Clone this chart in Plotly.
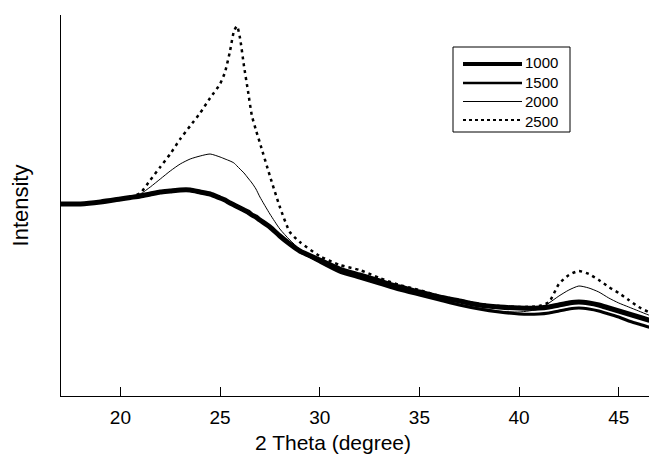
import plotly.graph_objects as go

# 2 Theta (degree)
theta = [17, 18, 19, 20, 20.5, 21, 21.5, 22, 22.5, 23, 23.5, 24, 24.5, 25, 25.25, 25.5,
         25.7, 25.85, 26, 26.2, 26.4, 26.6, 26.8, 27, 27.5, 28, 28.5, 29, 30, 31, 32, 33,
         34, 35, 36, 37, 38, 39, 40, 41, 41.5, 42, 42.5, 43, 43.5, 44, 44.5, 45, 45.5,
         46, 46.5, 47]

# Intensity (arbitrary units)
i1000 = [192, 192, 194, 197, 198.5, 200, 202, 204, 205, 206, 206, 204, 202, 198, 196, 193,
         191, 189.5, 188, 186, 184, 181, 179, 176, 169, 160, 152, 145, 136, 127, 121, 115,
         109, 104, 99, 95, 91, 89, 88, 88, 89, 91, 93, 94, 93, 91, 88, 85, 82,
         79, 76, 73]
i1500 = [192, 192, 194, 197, 198.5, 200, 202, 204, 205, 206, 206, 204, 202, 198, 196, 193,
         191, 189.5, 188, 186, 184, 181, 179, 176, 169, 160, 152, 145, 134, 124, 118, 112,
         106, 101, 96, 91, 87, 84, 82, 82, 83, 85, 87, 88, 87, 85, 82, 79, 75,
         72, 69, 67]
i2000 = [192, 192, 194, 197, 198.5, 202, 209, 217, 225, 232, 237, 240, 242, 239, 237, 235,
         233, 230, 227, 223, 218, 213, 207, 199, 182, 167, 156, 147, 136, 127, 120, 114,
         108, 102, 97, 92, 88, 85, 84, 87, 93, 100, 106, 110, 108, 104, 98, 93, 89,
         85, 81, 78]
i2500 = [192, 192, 194, 197, 199, 203, 216, 229, 242, 257, 270, 283, 298, 312, 324, 345,
         365, 370, 358, 330, 305, 280, 266, 253, 220, 189, 164, 154, 140, 131, 126, 118,
         111, 106, 100, 96, 92, 90, 89, 90, 94, 112, 121, 125, 122, 116, 109, 103, 96,
         89, 84, 80]

series_names = ["1000", "1500", "2000", "2500"]
tick_values = [20, 25, 30, 35, 40, 45]

fig = go.Figure()
styles = [
    dict(color="black", width=5),
    dict(color="black", width=3),
    dict(color="black", width=1),
    dict(color="black", width=2.5, dash="3px,4px"),
]
legend_styles = [
    dict(color="black", width=4),
    dict(color="black", width=2.5),
    dict(color="black", width=1),
    dict(color="black", width=2, dash="3px,3px"),
]
for name, ys, st in zip(series_names, [i1000, i1500, i2000, i2500], styles):
    fig.add_trace(go.Scatter(x=theta, y=ys, mode="lines", name=name, showlegend=False,
                             line=dict(shape="spline", smoothing=0.6, **st)))

# boxed key in the upper right (paper coordinates of the plot area)
PW, PH = 596.0, 381.0
def px(x):
    return (x - 61) / PW
def py(y):
    return (396 - y) / PH

fig.add_shape(type="rect", xref="paper", yref="paper",
              x0=px(453), x1=px(570), y0=py(132), y1=py(47),
              line=dict(color="black", width=1), fillcolor="white", layer="above")
row_y = [64, 83, 101.5, 120]
for st, ry in zip(legend_styles, row_y):
    fig.add_shape(type="line", xref="paper", yref="paper",
                  x0=px(463), x1=px(522), y0=py(ry), y1=py(ry), line=st, layer="above")
fig.add_annotation(xref="paper", yref="paper", x=px(523), y=py(sum(row_y) / 4.0),
                   xanchor="left", yanchor="middle", align="left",
                   text="<br>".join(series_names), showarrow=False,
                   font=dict(size=15))

fig.add_annotation(xref="paper", yref="paper", x=px(333), y=py(442),
                   xanchor="center", yanchor="middle", text="2 Theta (degree)",
                   showarrow=False, font=dict(size=21))

font_family = "Liberation Sans, Arial, Helvetica, sans-serif"
# the page body has an 8px margin, so the figure is sized 8px smaller
fig.update_layout(
    width=649, height=450,
    margin=dict(l=53, r=0, t=7, b=62),
    paper_bgcolor="white", plot_bgcolor="white",
    font=dict(family=font_family, color="black", size=19),
    showlegend=False,
    xaxis=dict(range=[17.02, 46.92], tickvals=tick_values,
               ticks="inside", ticklen=9, tickcolor="black",
               showline=True, linecolor="black", linewidth=1,
               showgrid=False, zeroline=False,
               ticklabelstandoff=4,
               tickfont=dict(size=19)),
    yaxis=dict(range=[0, 381], showticklabels=False, ticks="",
               showline=True, linecolor="black", linewidth=1,
               showgrid=False, zeroline=False,
               title=dict(text="Intensity", standoff=26, font=dict(size=22))),
)

fig.write_html("out.html")
